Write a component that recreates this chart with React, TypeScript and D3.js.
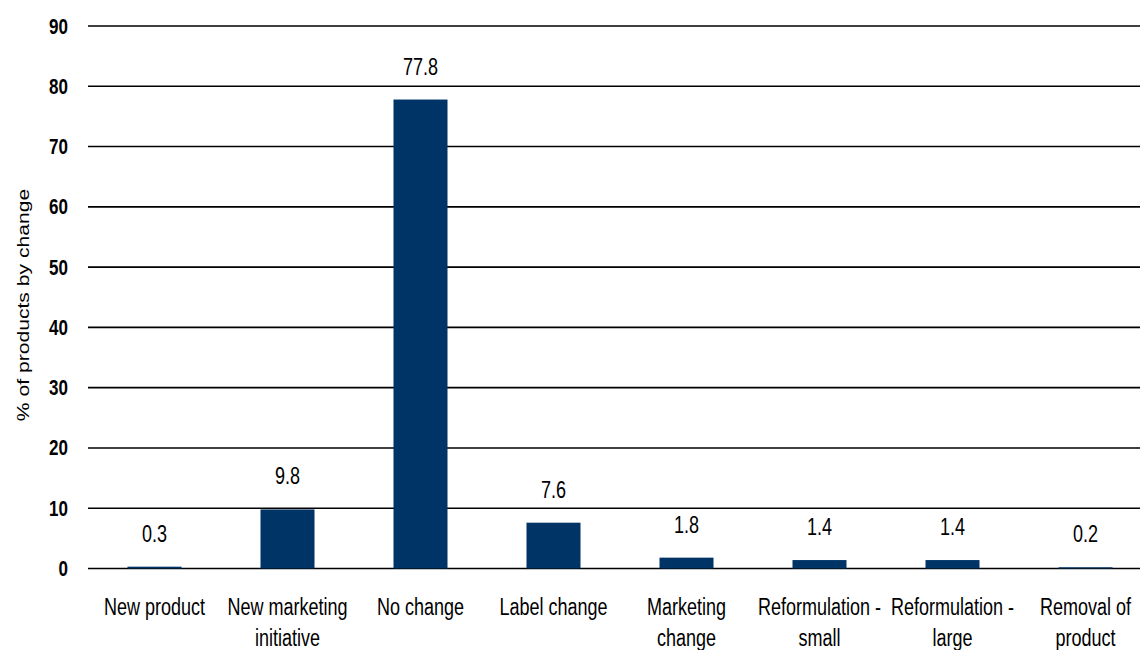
import React from "react";
import * as d3 from "d3";

const categories: string[] = [
  "New product",
  "New marketing\ninitiative",
  "No change",
  "Label change",
  "Marketing\nchange",
  "Reformulation -\nsmall",
  "Reformulation -\nlarge",
  "Removal of\nproduct",
];
const values: number[] = [0.3, 9.8, 77.8, 7.6, 1.8, 1.4, 1.4, 0.2];
const yTicks: number[] = [0, 10, 20, 30, 40, 50, 60, 70, 80, 90];
const yTitle = "% of products by change";

const W = 1140;
const H = 650;
const left = 88;
const right = 1152;
const yTop = 26;
const yBottom = 568.5;
const SY = 1.28;
const FONT = "'Liberation Sans', Arial, sans-serif";
const BAR = "#003366";

function SText({ x, y, children, size, weight, anchor }: any) {
  return (
    <text
      transform={`translate(${x},${y}) scale(1,${SY})`}
      fontFamily={FONT}
      fontSize={size}
      fontWeight={weight || "normal"}
      textAnchor={anchor || "middle"}
      fill="#000"
    >
      {children}
    </text>
  );
}

export default function App() {
  const x = d3.scaleBand<string>().domain(categories).range([left, right]).padding(0);
  const y = d3.scaleLinear().domain([0, 90]).range([yBottom, yTop]);
  const barW = x.bandwidth() * 0.406;

  return (
    <svg
      width={W}
      height={H}
      style={{ position: "absolute", left: 0, top: 0, background: "#fff" }}
    >
      <rect x={0} y={0} width={W} height={H} fill="#fff" />
      {yTicks.map((t) => (
        <g key={t}>
          <line x1={left} x2={right} y1={y(t)} y2={y(t)} stroke="#000" strokeWidth={1.6} />
          <SText x={68} y={y(t) + 7.5} size={17} weight="bold" anchor="end">
            {t}
          </SText>
        </g>
      ))}
      {categories.map((c, i) => {
        const cx = (x(c) as number) + x.bandwidth() / 2;
        const v = values[i];
        return (
          <g key={c}>
            <rect x={cx - barW / 2} y={y(v)} width={barW} height={y(0) - y(v)} fill={BAR} />
            <SText x={cx} y={y(v) - 25} size={18}>
              {v.toFixed(1)}
            </SText>
            {c.split("\n").map((line, j) => (
              <SText key={j} x={cx} y={615 + j * 30.5} size={18}>
                {line}
              </SText>
            ))}
          </g>
        );
      })}
      <text
        transform={`translate(29,305) rotate(-90) scale(${SY},1)`}
        fontFamily={FONT}
        fontSize={16.5}
        textAnchor="middle"
        fill="#000"
      >
        {yTitle}
      </text>
    </svg>
  );
}
